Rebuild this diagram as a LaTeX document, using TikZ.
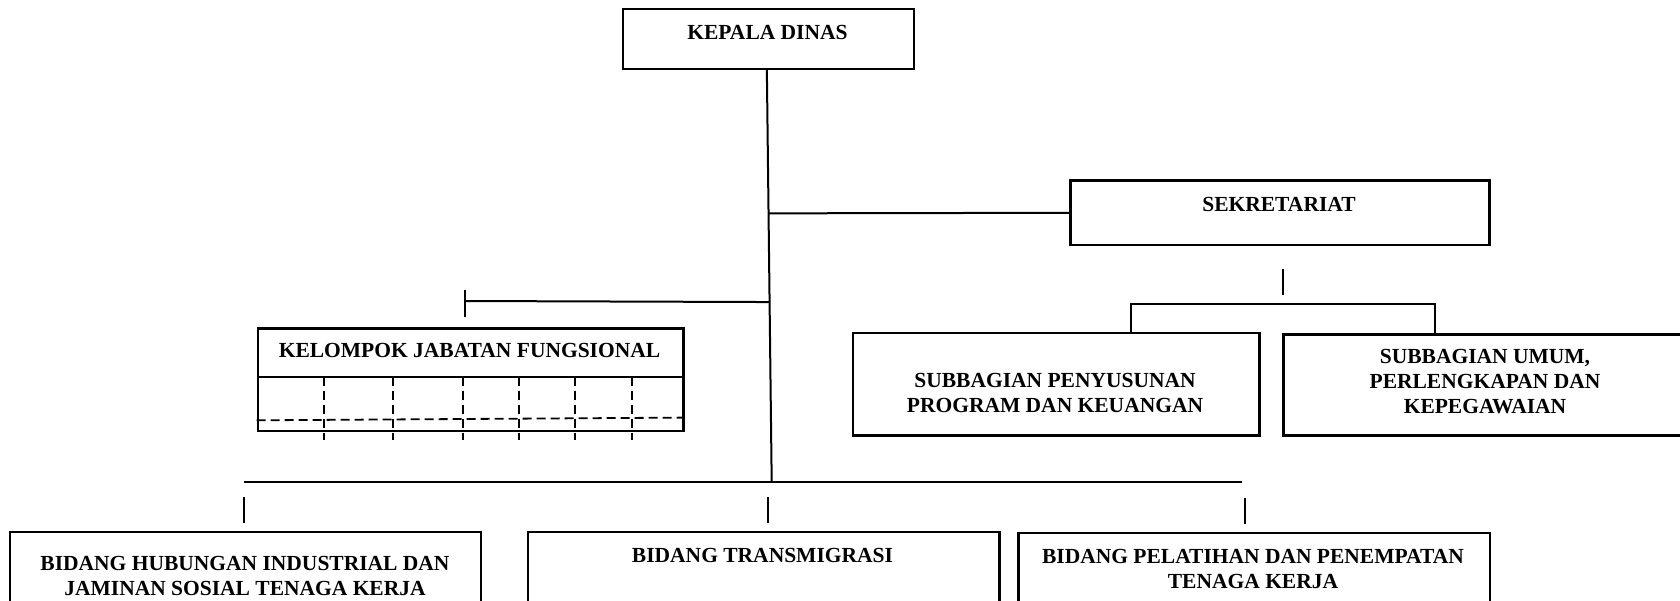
\documentclass[tikz,border=0pt]{standalone}
\usepackage{fontspec}
\setmainfont{Liberation Serif}
\usetikzlibrary{calc}

\begin{document}
\begin{tikzpicture}[x=0.5pt,y=-0.5pt,
    unit/.style={draw=black,line width=1.15pt,inner sep=0pt,anchor=north west},
    txt/.style={font=\fontsize{10.75}{12.5}\selectfont\bfseries,align=center,inner sep=0pt},
    conn/.style={line width=1pt},
    dsh/.style={line width=0.9pt,dash pattern=on 4.5pt off 2.5pt}]
  \useasboundingbox (0,0) rectangle (1680,600);
  \clip (0,0) rectangle (1680,600);
  \fill[white] (0,0) rectangle (1680,600);

  % boxes
  \node[unit,minimum width=145.5pt,minimum height=30pt] (kadis) at (622,7.5) {};
  \node[unit,minimum width=209.5pt,minimum height=32.35pt] (sek) at (1069.3,179.3) {};
  \node[unit,minimum width=203.15pt,minimum height=51.3pt] (subprog) at (852,331.7) {};
  \node[unit,minimum width=203pt,minimum height=50.5pt] (subumum) at (1282.3,333.3) {};
  \node[unit,minimum width=212.8pt,minimum height=51.35pt] (kjf) at (256.7,327.3) {};
  \node[unit,minimum width=235.5pt,minimum height=45pt] (hub) at (9,530.7) {};
  \node[unit,minimum width=235.8pt,minimum height=45pt] (tra) at (526.7,530.7) {};
  \node[unit,minimum width=235.85pt,minimum height=45pt] (pel) at (1017.3,531.7) {};

  % texts
  \node[txt] (kadis-t) at (767.5,32) {KEPALA DINAS};
  \node[txt] (sek-t) at (1279,204) {SEKRETARIAT};
  \node[txt] (subprog-t) at (1055,392.5) {SUBBAGIAN PENYUSUNAN\\PROGRAM DAN KEUANGAN};
  \node[txt] (subumum-t) at (1485,381.8) {SUBBAGIAN UMUM,\\PERLENGKAPAN DAN\\KEPEGAWAIAN};
  \node[txt] (kjf-t) at (469.5,350.7) {KELOMPOK JABATAN FUNGSIONAL};
  \node[txt] (hub-t) at (245,575.8) {BIDANG HUBUNGAN INDUSTRIAL DAN\\JAMINAN SOSIAL TENAGA KERJA};
  \node[txt] (tra-t) at (762.5,555) {BIDANG TRANSMIGRASI};
  \node[txt] (pel-t) at (1253,569.2) {BIDANG PELATIHAN DAN PENEMPATAN\\TENAGA KERJA};

  % kelompok jabatan fungsional grid
  \draw[line width=1.15pt] ([yshift=-24.7pt]kjf.north west) -- ([yshift=-24.7pt]kjf.north east);
  \draw[dsh] ([yshift=6pt]kjf.south west) -- ([yshift=7.35pt]kjf.south east);
  \foreach \x in {324.3,393.3,463.3,519.3,575.3,632} {
    \draw[dsh] (\x,376.7) -- (\x,440); }

  % main line and bar
  \coordinate (mainTop) at ([xshift=-0.9pt]kadis.south);
  \coordinate (barM) at (771.7,482.3);
  \coordinate (barL) at (244.3,482.3);
  \coordinate (barR) at (1241.7,482.3);
  \draw[conn] (mainTop) -- (barM);
  \draw[conn] (barL) -- (barR);

  % sekretariat
  \draw[conn] (sek.west) -- ($(mainTop)!0.348!(barM)$);
  \draw[conn] (sek.south) ++(3.5,22.7) -- ++(0,26);
  \coordinate (sbL) at (1131,304.3);
  \coordinate (sbR) at (1435,304.3);
  \draw[conn] (sbL |- subprog.north) -- (sbL) -- (sbR) -- (sbR |- subumum.north);

  % kelompok
  \coordinate (kjfJ) at (465.3,301);
  \draw[conn] ($(mainTop)!0.563!(barM)$) -- (kjfJ);
  \draw[conn] (kjfJ) ++(0,-11) -- ++(0,26.7);

  % bidang ticks
  \foreach \n/\s in {hub/-0.6pt,tra/2.1pt,pel/-4.85pt} {
    \draw[conn] ([xshift=\s]\n.north) ++(0,-7.7) -- ++(0,-26.5); }
\end{tikzpicture}
\end{document}
